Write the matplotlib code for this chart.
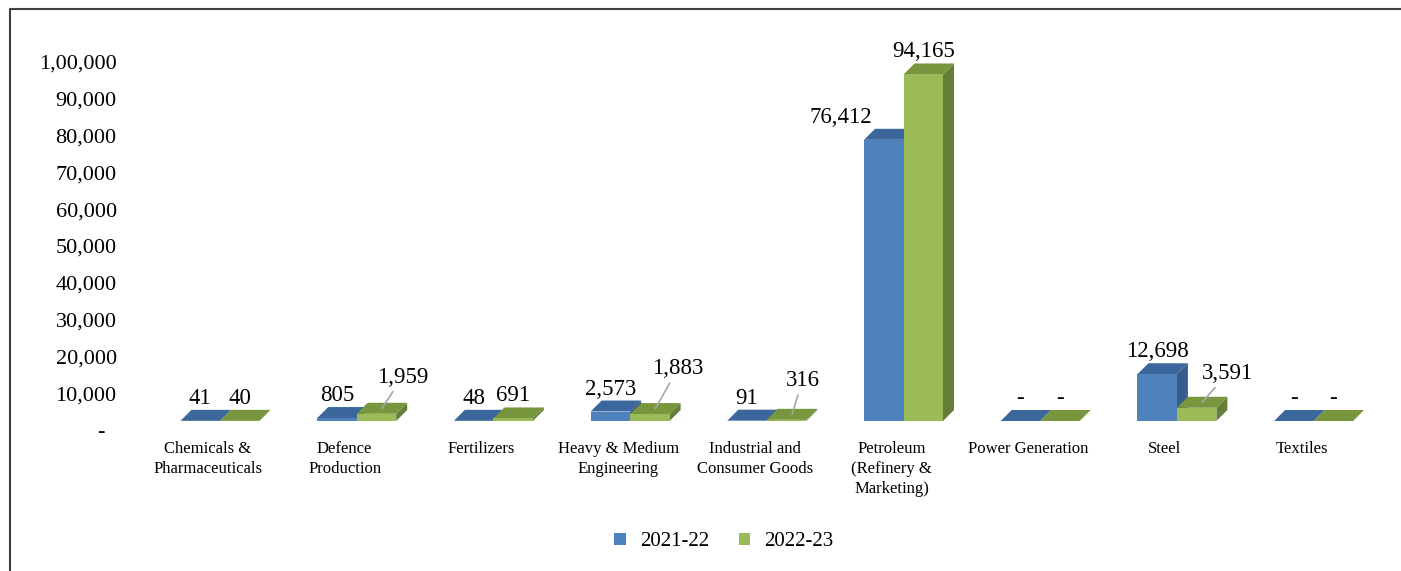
import matplotlib
matplotlib.use("Agg")
from matplotlib import pyplot as plt
from matplotlib.patches import Polygon, Patch
from matplotlib.lines import Line2D

plt.rcParams['font.family'] = ['Liberation Serif', 'DejaVu Serif']

# data
categories = ['Chemicals &\nPharmaceuticals', 'Defence\nProduction', 'Fertilizers',
              'Heavy & Medium\nEngineering', 'Industrial and\nConsumer Goods',
              'Petroleum\n(Refinery &\nMarketing)', 'Power Generation', 'Steel', 'Textiles']
years = ['2021-22', '2022-23']
values_2021 = [41, 805, 48, 2573, 91, 76412, 0, 12698, 0]
values_2022 = [40, 1959, 691, 1883, 316, 94165, 0, 3591, 0]
y_ticks = [0, 10000, 20000, 30000, 40000, 50000, 60000, 70000, 80000, 90000, 100000]

# label tweaks in pixels (dx, dy), dy positive = up; leader lines for the green ones
label_shift = {
    (5, 0): (-43, 0),
    (1, 1): (26, 14),
    (3, 1): (28, 23),
    (4, 1): (16, 17),
    (7, 1): (31, 12),
}

colors = {
    0: dict(front='#4F81BD', top='#3C679C', side='#385D8A'),
    1: dict(front='#9BBB59', top='#78963D', side='#667F38'),
}

W, H = 1401, 571
fig = plt.figure(figsize=(W / 100, H / 100), dpi=100)

# pixel layout
ax_l, ax_r, ax_b, ax_t = 150, 1390, 450, 30
x0_px, step_px = 220, 136.7        # centre of first pair, spacing
zero_px, per_px = 430, 100000 / 368  # y tick zero and value per pixel

ax = fig.add_axes([ax_l / W, 1 - ax_b / H, (ax_r - ax_l) / W, (ax_b - ax_t) / H])
ax.set_xlim((ax_l - x0_px) / step_px, (ax_r - x0_px) / step_px)
ax.set_ylim(-(ax_b - zero_px) * per_px, (zero_px - ax_t) * per_px)
for s in ax.spines.values():
    s.set_visible(False)
ax.set_xticks([])


def fmt_indian(v):
    if v == 0:
        return '-  '
    s = str(int(v))
    if len(s) <= 3:
        return s
    last3 = s[-3:]
    rest = s[:-3]
    parts = []
    while len(rest) > 2:
        parts.insert(0, rest[-2:])
        rest = rest[:-2]
    if rest:
        parts.insert(0, rest)
    return ','.join(parts) + ',' + last3


ax.set_yticks(y_ticks)
ax.set_yticklabels([fmt_indian(v) for v in y_ticks], fontsize=16)
ax.tick_params(axis='y', length=0, pad=24)

bw = 39.5 / step_px
dx = 11 / step_px
dy = 11 * per_px
base = 9 * per_px
px_x = 1 / step_px

for i, cat in enumerate(categories):
    for j, vals in enumerate([values_2021, values_2022]):
        v = vals[i]
        c = colors[j]
        xl = i - bw + j * bw
        xr = xl + bw
        yb = base
        yt = base + v
        side = [(xr, yb), (xr + dx, yb + dy), (xr + dx, yt + dy), (xr, yt)]
        top = [(xl, yt), (xr, yt), (xr + dx, yt + dy), (xl + dx, yt + dy)]
        front = [(xl, yb), (xr, yb), (xr, yt), (xl, yt)]
        ax.add_patch(Polygon(side, closed=True, facecolor=c['side'], edgecolor='none'))
        ax.add_patch(Polygon(top, closed=True, facecolor=c['top'], edgecolor='none'))
        ax.add_patch(Polygon(front, closed=True, facecolor=c['front'], edgecolor='none'))

        label = '-' if v == 0 else f'{v:,}'
        cx = (xl + xr) / 2
        ty = yt + dy + 6 * per_px
        sx, sy = label_shift.get((i, j), (0, 0))
        if (i, j) in label_shift and j == 1:
            ax.annotate(label, xy=(cx + dx / 2, yt + dy / 2),
                        xytext=(cx + sx * px_x, ty + sy * per_px),
                        ha='center', va='baseline', fontsize=16.5,
                        arrowprops=dict(arrowstyle='-', color='#A6A6A6', lw=1.2,
                                        shrinkA=1, shrinkB=0))
        else:
            ax.text(cx + sx * px_x, ty + sy * per_px, label,
                    ha='center', va='baseline', fontsize=16.5)

    ax.text(i - 12 * px_x, -(441 - zero_px) * per_px, cat, ha='center', va='top',
            fontsize=12, linespacing=1.35)

handles = [Patch(facecolor=colors[0]['front'], edgecolor='none'),
           Patch(facecolor=colors[1]['front'], edgecolor='none')]
fig.legend(handles, years, loc='center', bbox_to_anchor=(724 / W, 1 - 542 / H),
           ncol=2, frameon=False, fontsize=15, handlelength=0.55, handleheight=0.55,
           handletextpad=0.7, columnspacing=1.4)

# outer border (left and top)
fig.add_artist(Line2D([10 / W, 10 / W, 1.0], [0, 1 - 9 / H, 1 - 9 / H],
                      transform=fig.transFigure, color='#404040', lw=1.5))

fig.savefig('out.png', dpi=100)
